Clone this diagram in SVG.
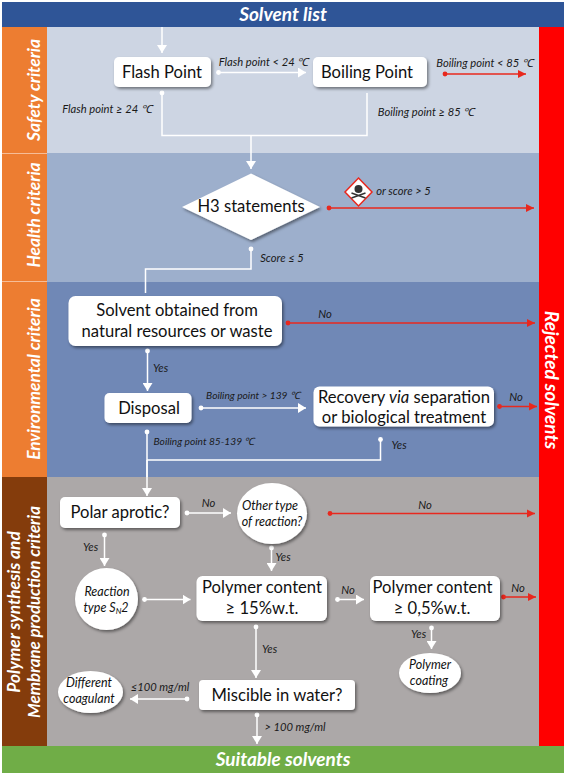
<svg xmlns="http://www.w3.org/2000/svg" width="566" height="775" viewBox="0 0 566 775">
<defs>
<filter id="sh" x="-20%" y="-20%" width="140%" height="150%"><feDropShadow dx="1.5" dy="2" stdDeviation="1.5" flood-color="#000" flood-opacity="0.45"/></filter>
<marker id="w" markerUnits="userSpaceOnUse" markerWidth="9" markerHeight="10" refX="8" refY="5" orient="auto"><path d="M0 0L8 5L0 10Z" fill="#fff"/></marker>
<marker id="r" markerUnits="userSpaceOnUse" markerWidth="9" markerHeight="10" refX="8" refY="5" orient="auto"><path d="M0 1L8 5L0 9Z" fill="#e8281e"/></marker>
<marker id="wd" markerUnits="userSpaceOnUse" markerWidth="6" markerHeight="6" refX="3" refY="3"><circle cx="3" cy="3" r="2.400" fill="#fff"/></marker>
<marker id="rd" markerUnits="userSpaceOnUse" markerWidth="6" markerHeight="6" refX="3" refY="3"><circle cx="3" cy="3" r="2.400" fill="#e8281e"/></marker>
</defs>
<style>
text{font-family:Lato,"Open Sans",sans-serif;text-anchor:middle}
.n{fill:#fff;filter:url(#sh)}
.t{font-size:16.6px;fill:#111}
.i{font-size:11.2px;font-style:italic;fill:#1a1a1a}
.s{font-size:10.2px;font-style:italic;fill:#1a1a1a}
.c{font-size:12.5px;font-style:italic;fill:#111}
.h{font-size:19px;font-weight:700;font-style:italic;fill:#fff}
.v{font-size:17.3px;font-weight:700;font-style:italic;fill:#fff}
.w,.wp,.wl{fill:none;stroke:#fff;stroke-width:1.500}
.w{marker-start:url(#wd);marker-end:url(#w)}
.wp{marker-start:url(#wd)}
.r{fill:none;stroke:#e8281e;stroke-width:1.500;marker-start:url(#rd);marker-end:url(#r)}
</style>
<rect width="566" height="775" fill="#fff"/>
<g id="bands">
<rect x="47" y="27" width="492" height="126" fill="#cdd5e3"/>
<rect x="47" y="153" width="492" height="129" fill="#9dafcc"/>
<rect x="47" y="282" width="492" height="195" fill="#7088b6"/>
<rect x="47" y="477" width="492" height="269" fill="#aca8a8"/>
<rect x="2" y="27" width="45" height="126" fill="#ed7d31"/>
<rect x="2" y="153.500" width="45" height="128" fill="#ed7d31"/>
<rect x="2" y="282" width="45" height="195" fill="#ed7d31"/>
<rect x="2" y="477" width="45" height="269" fill="#843c0c"/>
<rect x="2" y="2" width="562" height="25" fill="#2f5597"/>
<rect x="2" y="746" width="562" height="27" fill="#70ad47"/>
<rect x="539" y="27" width="25" height="719" fill="#ff0000"/>
<text class="h" x="283" y="21">Solvent list</text>
<text class="h" x="283" y="766">Suitable solvents</text>
<text class="v" transform="translate(40,90) rotate(-90)">Safety criteria</text>
<text class="v" transform="translate(40,215) rotate(-90)">Health criteria</text>
<text class="v" transform="translate(40,379) rotate(-90)">Environmental criteria</text>
<text class="v" transform="translate(20,612) rotate(-90)">Polymer synthesis and</text>
<text class="v" style="font-size:16.800px" transform="translate(40,612) rotate(-90)">Membrane production criteria</text>
<text class="h" transform="translate(545,380) rotate(90)">Rejected solvents</text>
</g>
<g id="connectors">
<path class="w" style="marker-start:none" d="M162 27V53"/>
<path class="w" d="M218.500 72.500H306"/>
<path class="r" d="M445 74H526"/>
<path class="wp" d="M162 93V135.500H367V93"/>
<path class="w" style="marker-start:none" d="M251 136V169"/>
<path class="r" d="M329 208H534"/>
<path class="wp" d="M251 249V269H145.500V293"/>
<path class="r" d="M288 323H535"/>
<path class="w" d="M147.500 351V391"/>
<path class="w" d="M201 408H306"/>
<path class="r" d="M499.500 406.500H537"/>
<path class="wp" d="M147 432V477"/>
<path class="wp" d="M380.500 439.500V460H147"/>
<path class="w" style="marker-start:none" d="M147 460V496"/>
<path class="w" d="M187 513H231"/>
<path class="r" d="M330 513.500H535"/>
<path class="w" d="M271.500 548V571"/>
<path class="w" d="M104.500 535V566"/>
<path class="w" d="M144.500 599.500H190.500"/>
<path class="w" d="M337.500 599.500H364"/>
<path class="r" d="M503.500 597H536"/>
<path class="w" d="M431.500 628V649"/>
<path class="w" d="M256 627V678"/>
<path class="w" d="M187 699H130"/>
<path class="w" d="M257 715V744"/>
</g>
<g id="flash-point"><rect class="n" x="114" y="57" width="97" height="30" rx="5"/><text class="t" x="162" y="78">Flash Point</text></g>
<g id="boiling-point"><rect class="n" x="313" y="57" width="114" height="30" rx="5"/><text class="t" x="367" y="77.500">Boiling Point</text></g>
<g id="h3-statements"><path class="n" d="M182 207L251 173.500L320 207L251 240Z"/><text class="t" x="251" y="212">H3 statements</text></g>
<g id="ghs-icon"><path d="M358.500 178L372 192L358.500 206L345 192Z" fill="#fff" stroke="#e8281e" stroke-width="1.500"/><circle cx="358.500" cy="189" r="4" fill="#333"/><path d="M351.500 193L365.500 198M365.500 193L351.500 198" stroke="#333" stroke-width="1.500"/></g>
<g id="solvent-natural"><rect class="n" x="68.500" y="296" width="213.500" height="50" rx="7"/><text class="t" x="177" y="315.500">Solvent obtained from</text><text class="t" x="177" y="337">natural resources or waste</text></g>
<g id="disposal"><rect class="n" x="104.500" y="393" width="87" height="30" rx="5"/><text class="t" x="149" y="414">Disposal</text></g>
<g id="recovery"><rect class="n" x="313.500" y="386.500" width="180.500" height="40" rx="6"/><text class="t" x="404" y="402.500">Recovery <tspan font-style="italic">via</tspan> separation</text><text class="t" x="404" y="423">or biological treatment</text></g>
<g id="polar-aprotic"><rect class="n" x="60" y="497" width="120" height="31" rx="5"/><text class="t" x="120" y="517.500">Polar aprotic?</text></g>
<g id="other-reaction"><ellipse class="n" cx="272" cy="513.500" rx="35" ry="30.500"/><text class="c" x="270" y="510">Other type</text><text class="c" x="272" y="525.500">of reaction?</text></g>
<g id="reaction-sn2"><ellipse class="n" cx="106.500" cy="599" rx="31.500" ry="31"/><text class="c" x="107" y="596">Reaction</text><text class="c" x="106" y="612">type S<tspan font-size="8" dy="2">N</tspan><tspan dy="-2">2</tspan></text></g>
<g id="polymer-15"><rect class="n" x="196.500" y="576" width="130.500" height="45" rx="6"/><text class="t" x="262" y="592.500">Polymer content</text><text class="t" x="262" y="613.500">≥ 15%w.t.</text></g>
<g id="polymer-05"><rect class="n" x="370" y="576" width="130" height="45" rx="6"/><text class="t" x="432.500" y="592.500">Polymer content</text><text class="t" x="432" y="613.500">≥ 0,5%w.t.</text></g>
<g id="polymer-coating"><ellipse class="n" cx="430" cy="673" rx="31" ry="20"/><text class="c" x="430" y="669">Polymer</text><text class="c" x="429" y="685">coating</text></g>
<g id="miscible"><rect class="n" x="199" y="680" width="156" height="30" rx="4"/><text class="t" x="277" y="700.500">Miscible in water?</text></g>
<g id="different-coagulant"><ellipse class="n" cx="90.500" cy="692" rx="32.500" ry="21"/><text class="c" x="89" y="687">Different</text><text class="c" x="89" y="703">coagulant</text></g>
<g id="labels">
<text class="i" x="263.500" y="66">Flash point &lt; 24 ℃</text>
<text class="i" x="484.500" y="67">Boiling point &lt; 85 ℃</text>
<text class="i" x="107" y="113">Flash point ≥ 24 ℃</text>
<text class="i" x="426" y="116">Boiling point ≥ 85 ℃</text>
<text class="i" x="403.500" y="195">or score &gt; 5</text>
<text class="i" x="282" y="262">Score ≤ 5</text>
<text class="i" x="325" y="318">No</text>
<text class="i" x="160.500" y="372">Yes</text>
<text class="s" x="253" y="399">Boiling point &gt; 139 ℃</text>
<text class="i" x="516" y="401">No</text>
<text class="s" x="204" y="445">Boiling point 85-139 ℃</text>
<text class="i" x="399" y="449">Yes</text>
<text class="i" x="208.500" y="507">No</text>
<text class="i" x="425" y="509">No</text>
<text class="i" x="90.500" y="551">Yes</text>
<text class="i" x="283" y="561">Yes</text>
<text class="i" x="348" y="594">No</text>
<text class="i" x="518" y="592">No</text>
<text class="i" x="418.500" y="638">Yes</text>
<text class="i" x="269.500" y="653">Yes</text>
<text class="i" x="160" y="691">≤100 mg/ml</text>
<text class="i" x="295" y="731">&gt; 100 mg/ml</text>
</g>
</svg>
